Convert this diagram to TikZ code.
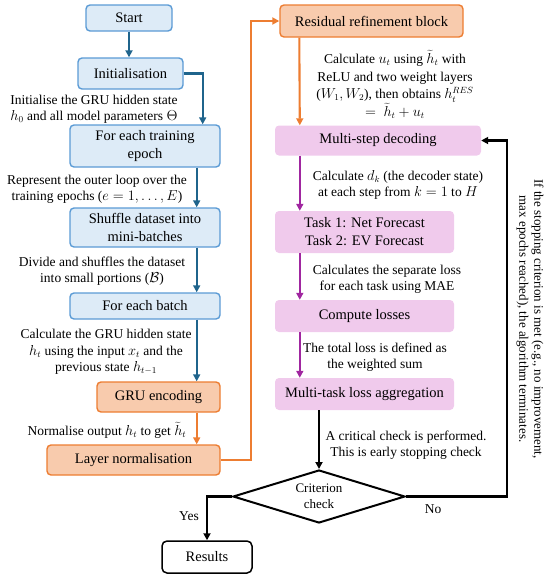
\documentclass[tikz,border=0pt]{standalone}
\usepackage{fontspec}
\setmainfont{Liberation Serif}
\usetikzlibrary{calc,shapes.geometric,arrows.meta,positioning}
\definecolor{myBlueFill}{RGB}{221,235,247}
\definecolor{myBlueLine}{RGB}{91,155,213}
\definecolor{myBlueArrow}{RGB}{31,100,140}
\definecolor{myOrangeFill}{RGB}{248,203,173}
\definecolor{myOrangeLine}{RGB}{237,125,49}
\definecolor{myPinkFill}{RGB}{240,202,236}
\definecolor{myPurpleArrow}{RGB}{160,38,160}
\tikzset{
myBox/.style={
	rectangle, rounded corners=4pt, align=center,
	inner sep=0pt, text=black,
	font=\fontsize{14.5}{18}\selectfont
}
, myBlueBox/.style={myBox, draw=myBlueLine, fill=myBlueFill, line width=1.4pt}
, myOrangeBox/.style={myBox, draw=myOrangeLine, fill=myOrangeFill, line width=1.4pt}
, myPinkBox/.style={myBox, fill=myPinkFill}
, myEndBox/.style={myBox, draw=black, fill=white, line width=1.5pt, rounded corners=5pt}
, myCheck/.style={
	diamond, draw=black, line width=2pt, aspect=3.2,
	inner sep=0pt, align=center,
	font=\fontsize{13}{16}\selectfont
}
, myNote/.style={align=center, inner sep=0pt, font=\fontsize{13.5}{16.3}\selectfont}
% links
, myBlueLink/.style={-{Triangle[length=7pt,width=7pt]}, color=myBlueArrow, line width=2.1pt}
, myOrangeLink/.style={-{Triangle[length=7pt,width=7pt]}, color=myOrangeLine, line width=2.1pt}
, myPurpleLink/.style={-{Triangle[length=7pt,width=7pt]}, color=myPurpleArrow, line width=2.1pt}
, myBlackLink/.style={-{Triangle[length=7pt,width=7pt]}, color=black, line width=2.1pt}
}
\begin{document}
\begin{tikzpicture}[x=1pt,y=-1pt]
	\useasboundingbox (0,0) rectangle (550,579);
	% left column
	\node[myBlueBox, minimum width=86pt, minimum height=26pt] (Start) at (129,18) {Start};
	\node[myBlueBox, minimum width=105pt, minimum height=31pt] (Init) at (130.5,73.5) {Initialisation};
	\node[myBlueBox, minimum width=150pt, minimum height=42pt] (Epoch) at (145,146) {For each training\\epoch};
	\node[myBlueBox, minimum width=150pt, minimum height=39pt] (Shuffle) at (145,227.5) {Shuffle dataset into\\mini-batches};
	\node[myBlueBox, minimum width=150pt, minimum height=26pt] (Batch) at (145,306) {For each batch};
	\node[myOrangeBox, minimum width=123pt, minimum height=30pt] (GRU) at (158.5,397) {GRU encoding};
	\node[myOrangeBox, minimum width=173pt, minimum height=30pt] (LayerNorm) at (133.5,460) {Layer normalisation};
	% right column
	\node[myOrangeBox, minimum width=183pt, minimum height=32pt] (Residual) at (371.5,21) {Residual refinement block};
	\node[myPinkBox, minimum width=206pt, minimum height=30pt] (Decoding) at (378,140.5) {Multi-step decoding};
	\node[myPinkBox, minimum width=179pt, minimum height=42pt] (Tasks) at (364.5,232) {Task 1: Net Forecast\\Task 2: EV Forecast};
	\node[myPinkBox, minimum width=179pt, minimum height=32pt] (Losses) at (364.5,316) {Compute losses};
	\node[myPinkBox, minimum width=179pt, minimum height=32pt] (Aggregation) at (364.5,394) {Multi-task loss aggregation};
	% check and end
	\node[myCheck, minimum width=172pt, minimum height=53pt] (Check) at (319,496.5) {Criterion\\check};
	\node[myEndBox, minimum width=90pt, minimum height=32pt] (Results) at (207,557) {Results};

	% notes
	\node[myNote] (InitNote) at (94,109) {Initialise the GRU hidden state\\$h_0$ and all model parameters $\Theta$};
	\node[myNote] (EpochNote) at (97,189) {Represent the outer loop over the\\training epochs ($e=1,\ldots,E$)};
	\node[myNote] (ShuffleNote) at (102,271) {Divide and shuffles the dataset\\into small portions ($\mathcal{B}$)};
	\node[myNote] (BatchNote) at (106,352) {Calculate the GRU hidden state\\$h_t$ using the input $x_t$ and the\\previous state $h_{t-1}$};
	\node[myNote] (GRUNote) at (107,430) {Normalise output $h_t$ to get $\widetilde{h}_t$};
	\node[myNote, font=\fontsize{13.5}{17.5}\selectfont] (ResidualNote) at (395,84.5) {Calculate $u_t$ using $\widetilde{h}_t$ with\\ReLU and two weight layers\\($W_1,W_2$), then obtains $h_t^{RES}$\\$=\ \widetilde{h}_t+u_t$};
	\node[myNote] (DecodingNote) at (398,185) {Calculate $d_k$ (the decoder state)\\at each step from $k=1$ to $H$};
	\node[myNote] (TasksNote) at (387,279) {Calculates the separate loss\\for each task using MAE};
	\node[myNote] (LossesNote) at (375,357) {The total loss is defined as\\the weighted sum};
	\node[myNote, font=\fontsize{13.5}{15.5}\selectfont] (AggregationNote) at (406,445) {A critical check is performed.\\This is early stopping check};
	\node[myNote, font=\fontsize{13}{15}\selectfont, rotate=-90] (StopNote) at (530,319) {If the stopping criterion is met (e.g., no improvement,\\max epochs reached), the algorithm terminates.};
	\node[myNote] (YesLabel) at (189,516) {Yes};
	\node[myNote] (NoLabel) at (433,509) {No};

	% links
	\draw [myBlueLink] (Start.south) -- (Start.south |- Init.north);
	\draw [myBlueLink] (Init.east) -| ($(Epoch.north east)+(-18,0)$);
	\draw [myBlueLink] ($(Epoch.south east)+(-24,0)$) -- ($(Shuffle.north east)+(-24,0)$);
	\draw [myBlueLink] ($(Shuffle.south east)+(-24,0)$) -- ($(Batch.north east)+(-24,0)$);
	\draw [myBlueLink] ($(Batch.south east)+(-24,0)$) -- ($(GRU.north east)+(-24,0)$);
	\draw [myOrangeLink] ($(GRU.south east)+(-24,0)$) -- ($(LayerNorm.north east)+(-24,0)$);
	\draw [myOrangeLink] (LayerNorm.east) -- ++(30,0) |- (Residual.west);
	\draw [myOrangeLink] ($(Residual.south west)+(20,0)$) -- ($(Decoding.north west)+(25,0)$);
	\draw [myPurpleLink] ($(Decoding.south west)+(25,0)$) -- ($(Tasks.north west)+(25,0)$);
	\draw [myPurpleLink] ($(Tasks.south west)+(25,0)$) -- ($(Losses.north west)+(25,0)$);
	\draw [myPurpleLink] ($(Losses.south west)+(25,0)$) -- ($(Aggregation.north west)+(25,0)$);
	\draw [myBlackLink] (Check.north |- Aggregation.south) -- (Check.north);
	\draw [myBlackLink] (Check.west) -| (Results.north);
	\draw [myBlackLink] (Check.east) -- ++(101,0) |- (Decoding.east);
\end{tikzpicture}
\end{document}
